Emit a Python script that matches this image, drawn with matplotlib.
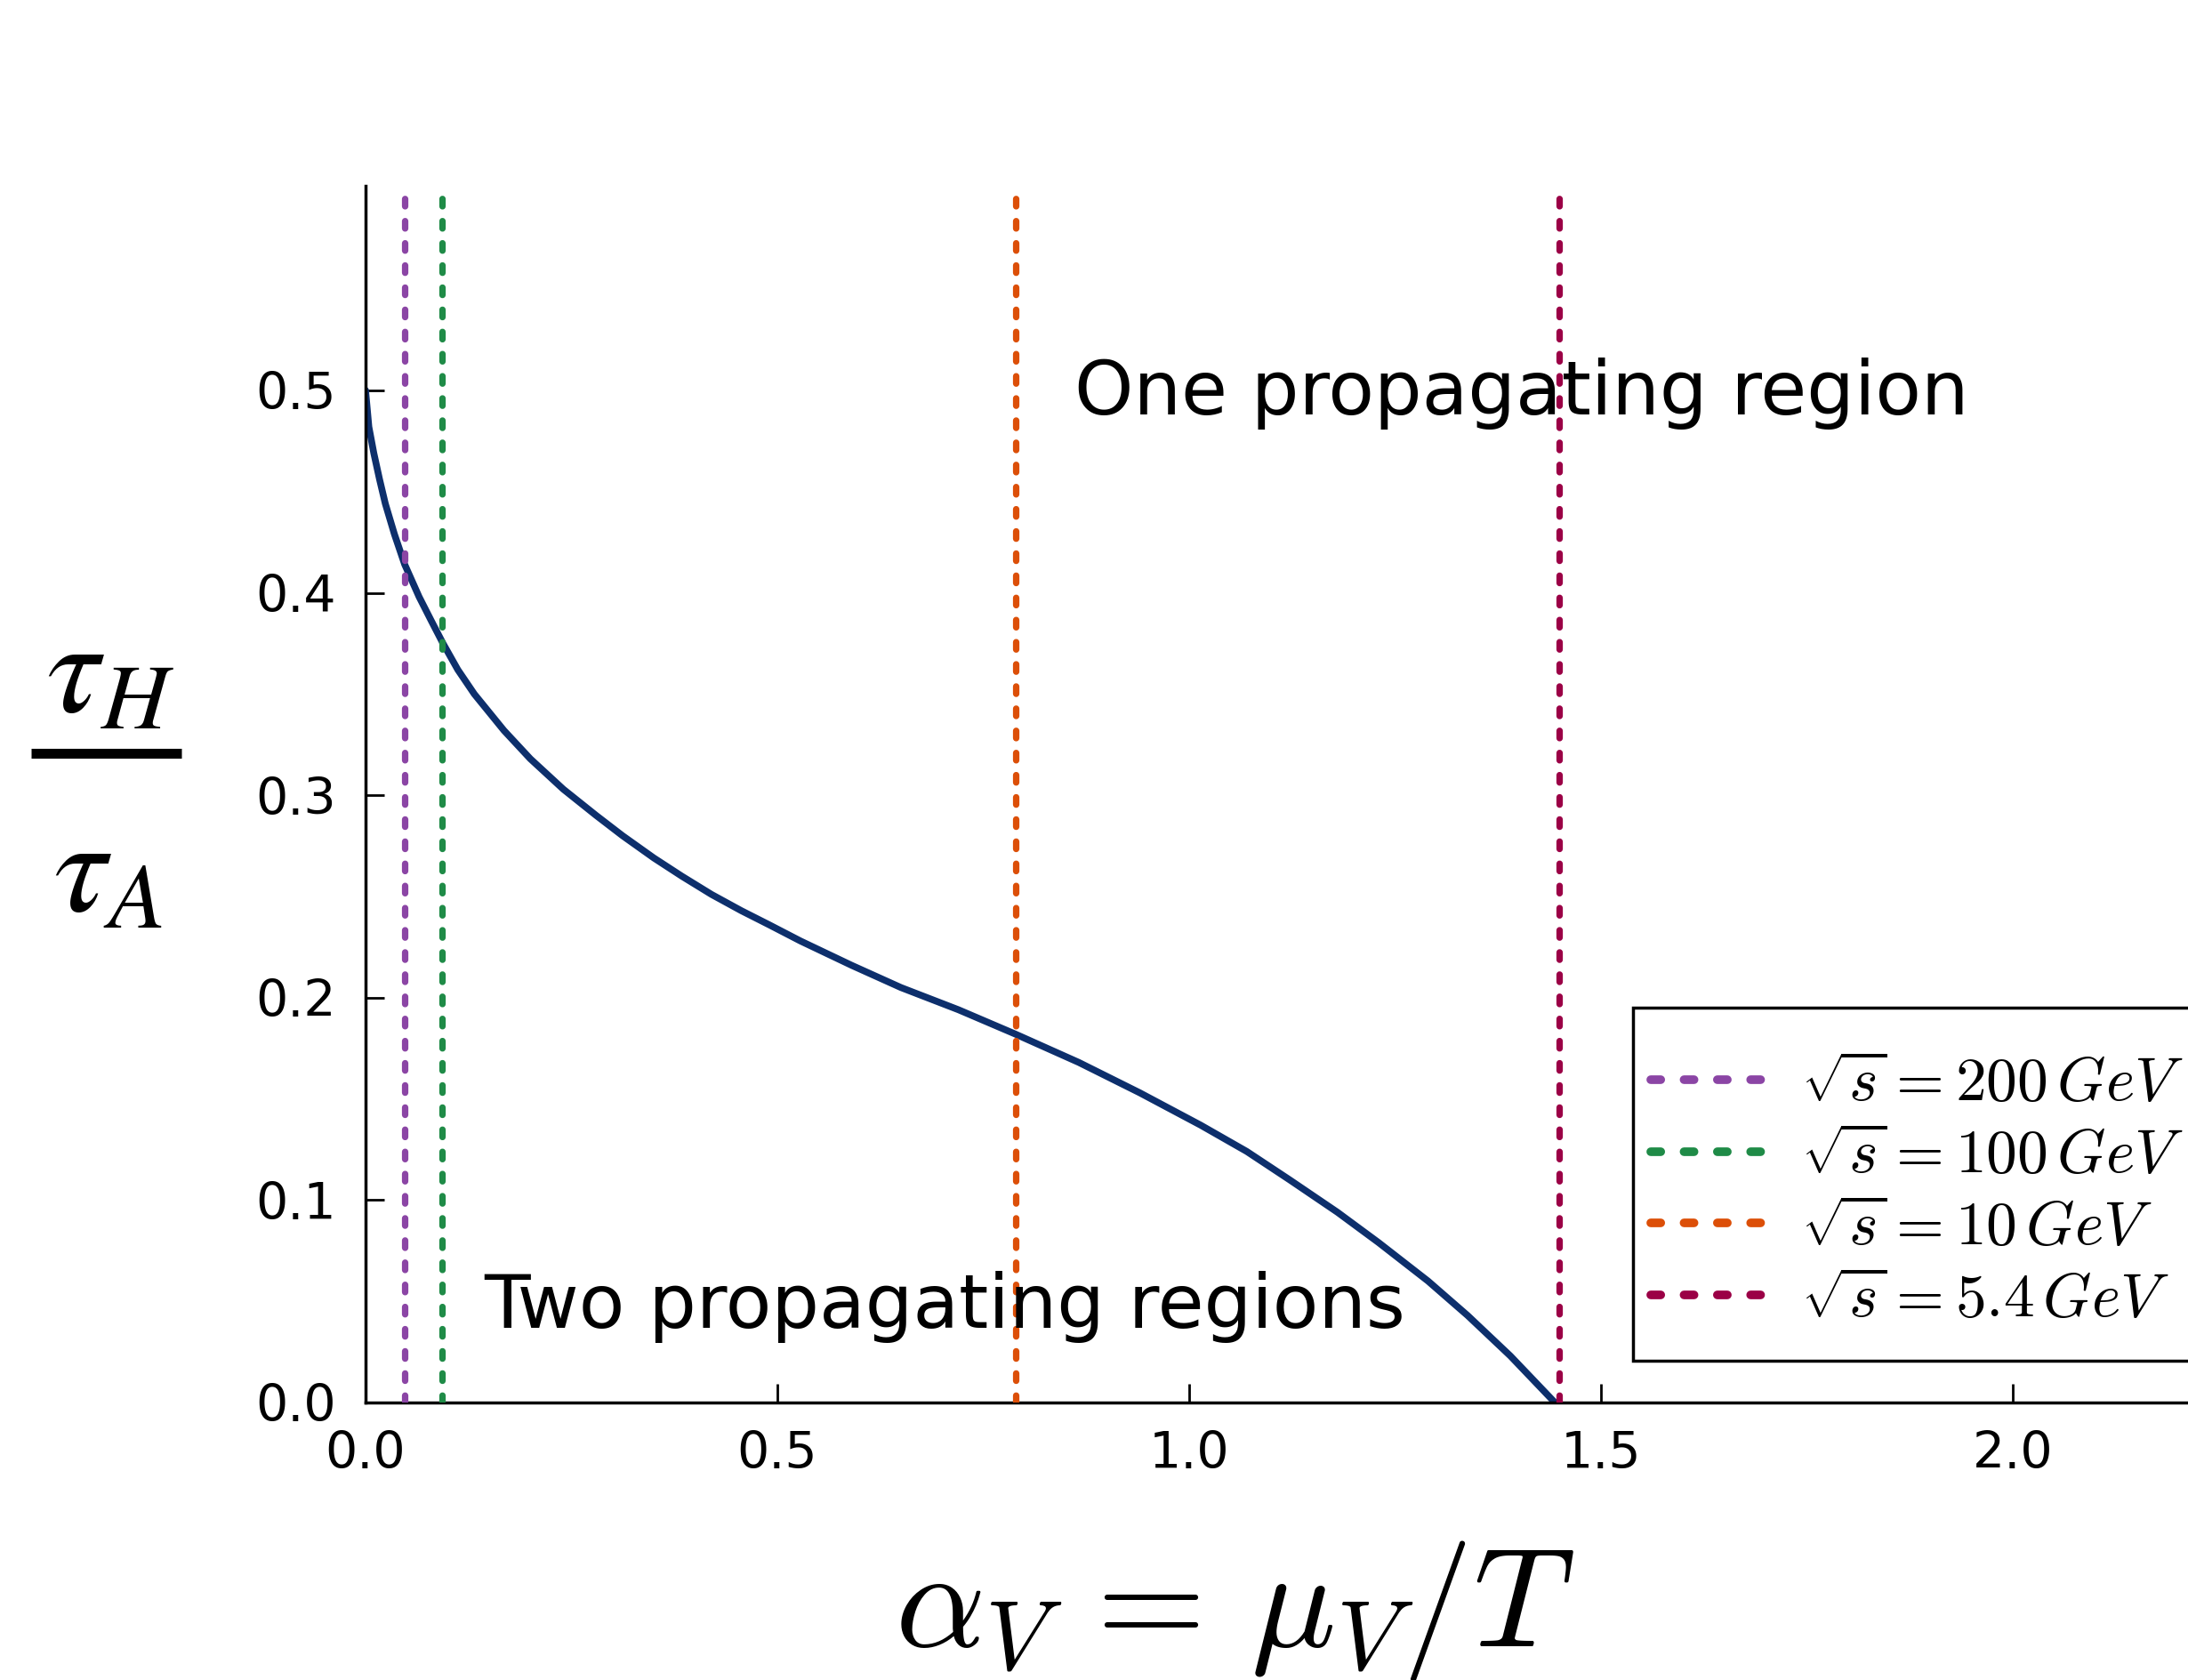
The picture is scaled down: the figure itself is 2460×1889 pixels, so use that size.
import matplotlib
matplotlib.use("Agg")
import matplotlib.pyplot as plt
from matplotlib.lines import Line2D
from matplotlib.patches import Rectangle

# ---- data ----
alpha_v = [0.0, 0.004, 0.010, 0.017, 0.024, 0.035, 0.0475, 0.065, 0.080, 0.094,
           0.112, 0.132, 0.150, 0.168, 0.200, 0.240, 0.280, 0.312, 0.350, 0.384,
           0.420, 0.456, 0.490, 0.528, 0.590, 0.650, 0.720, 0.789, 0.866, 0.940,
           1.014, 1.070, 1.122, 1.180, 1.230, 1.290, 1.338, 1.390, 1.444]
tau_ratio = [0.500, 0.482, 0.469, 0.456, 0.444, 0.429, 0.414, 0.398, 0.386, 0.375,
             0.362, 0.350, 0.341, 0.332, 0.318, 0.303, 0.290, 0.280, 0.269, 0.260,
             0.251, 0.243, 0.236, 0.228, 0.216, 0.205, 0.194, 0.182, 0.168, 0.153,
             0.137, 0.124, 0.110, 0.094, 0.079, 0.060, 0.043, 0.023, 0.0]

vline_x = [0.048, 0.093, 0.789, 1.449]
vline_labels = [r"$\sqrt{s} = 200\,GeV$", r"$\sqrt{s} = 100\,GeV$",
                r"$\sqrt{s} = 10\,GeV$", r"$\sqrt{s} = 5.4\,GeV$"]
vline_colors = ["#8b45a5", "#1f8b47", "#dc4f08", "#9b0046"]

x_ticks = [0.0, 0.5, 1.0, 1.5, 2.0]
x_ticklabels = ["0.0", "0.5", "1.0", "1.5", "2.0"]
y_ticks = [0.0, 0.1, 0.2, 0.3, 0.4, 0.5]
y_ticklabels = ["0.0", "0.1", "0.2", "0.3", "0.4", "0.5"]

W, H = 2460, 1889
fig = plt.figure(figsize=(W / 100, H / 100), dpi=100)
fig.patch.set_facecolor("white")

ax_left, ax_bottom_px, ax_top_px = 411, 1577, 209
ax = fig.add_axes([ax_left / W, 1 - ax_bottom_px / H, 1 - ax_left / W,
                   (ax_bottom_px - ax_top_px) / H])
ax.set_xlim(0, 2.2127)
ax.set_ylim(0, 0.601)

ax.plot(alpha_v, tau_ratio, color="#0d2f6c", lw=5.5, zorder=2,
        solid_capstyle="round", solid_joinstyle="round")

for xv, lab, col in zip(vline_x, vline_labels, vline_colors):
    ax.axvline(xv, ymin=0, ymax=0.992, color=col, lw=5.2, linestyle=(0, (1.15, 2.3)),
               dash_capstyle="round", label=lab, zorder=3)

for s in ["top", "right"]:
    ax.spines[s].set_visible(False)
for s in ["left", "bottom"]:
    ax.spines[s].set_linewidth(2.5)

ax.set_xticks(x_ticks)
ax.set_xticklabels(x_ticklabels)
ax.set_yticks(y_ticks)
ax.set_yticklabels(y_ticklabels)
ax.tick_params(axis="both", direction="in", length=15, width=2, labelsize=41)
ax.tick_params(axis="x", pad=22)
ax.tick_params(axis="y", pad=24)

ax.text(0.861, 0.488, "One propagating region", fontsize=60.8, ha="left", va="baseline")
ax.text(0.1436, 0.037, "Two propagating regions", fontsize=60.8, ha="left", va="baseline")

# legend frame (runs off the right edge, as in the reference)
frame = Rectangle((1836 / W, 1 - 1530 / H), (2600 - 1836) / W, (1530 - 1133) / H,
                  transform=fig.transFigure, facecolor="white", edgecolor="black",
                  lw=2.5, zorder=4, clip_on=False)
ax.add_patch(frame)

leg = ax.legend(loc="upper left", bbox_to_anchor=(1856 / W, 1 - 1185 / H),
                bbox_transform=fig.transFigure, borderaxespad=0,
                prop={"size": 50, "math_fontfamily": "cm"},
                handlelength=1.88, handletextpad=0.55, borderpad=0,
                labelspacing=0.2, frameon=False)
leg.set_zorder(10)
for ln in leg.get_lines():
    ln.set_linewidth(7)
    ln.set_linestyle((0, (1.15, 2.7)))
    ln.set_dash_capstyle("round")

# x label (math, Computer Modern)
fig.text(1388 / W, 1 - 1851 / H, r"$\alpha_V\,=\,\mu_V/T$", fontsize=114,
         ha="center", va="baseline", math_fontfamily="cm")

# y label as a stacked fraction
fig.text(52 / W, 1 - 800 / H, r"$\tau_H$", fontsize=108, ha="left", va="baseline",
         math_fontfamily="stix")
fig.text(60 / W, 1 - 1024 / H, r"$\tau_A$", fontsize=108, ha="left", va="baseline",
         math_fontfamily="stix")
fig.add_artist(Line2D([35 / W, 204 / W], [1 - 847 / H, 1 - 847 / H],
                      transform=fig.transFigure, color="black", lw=8,
                      solid_capstyle="butt"))

fig.savefig("out.png", dpi=100)
